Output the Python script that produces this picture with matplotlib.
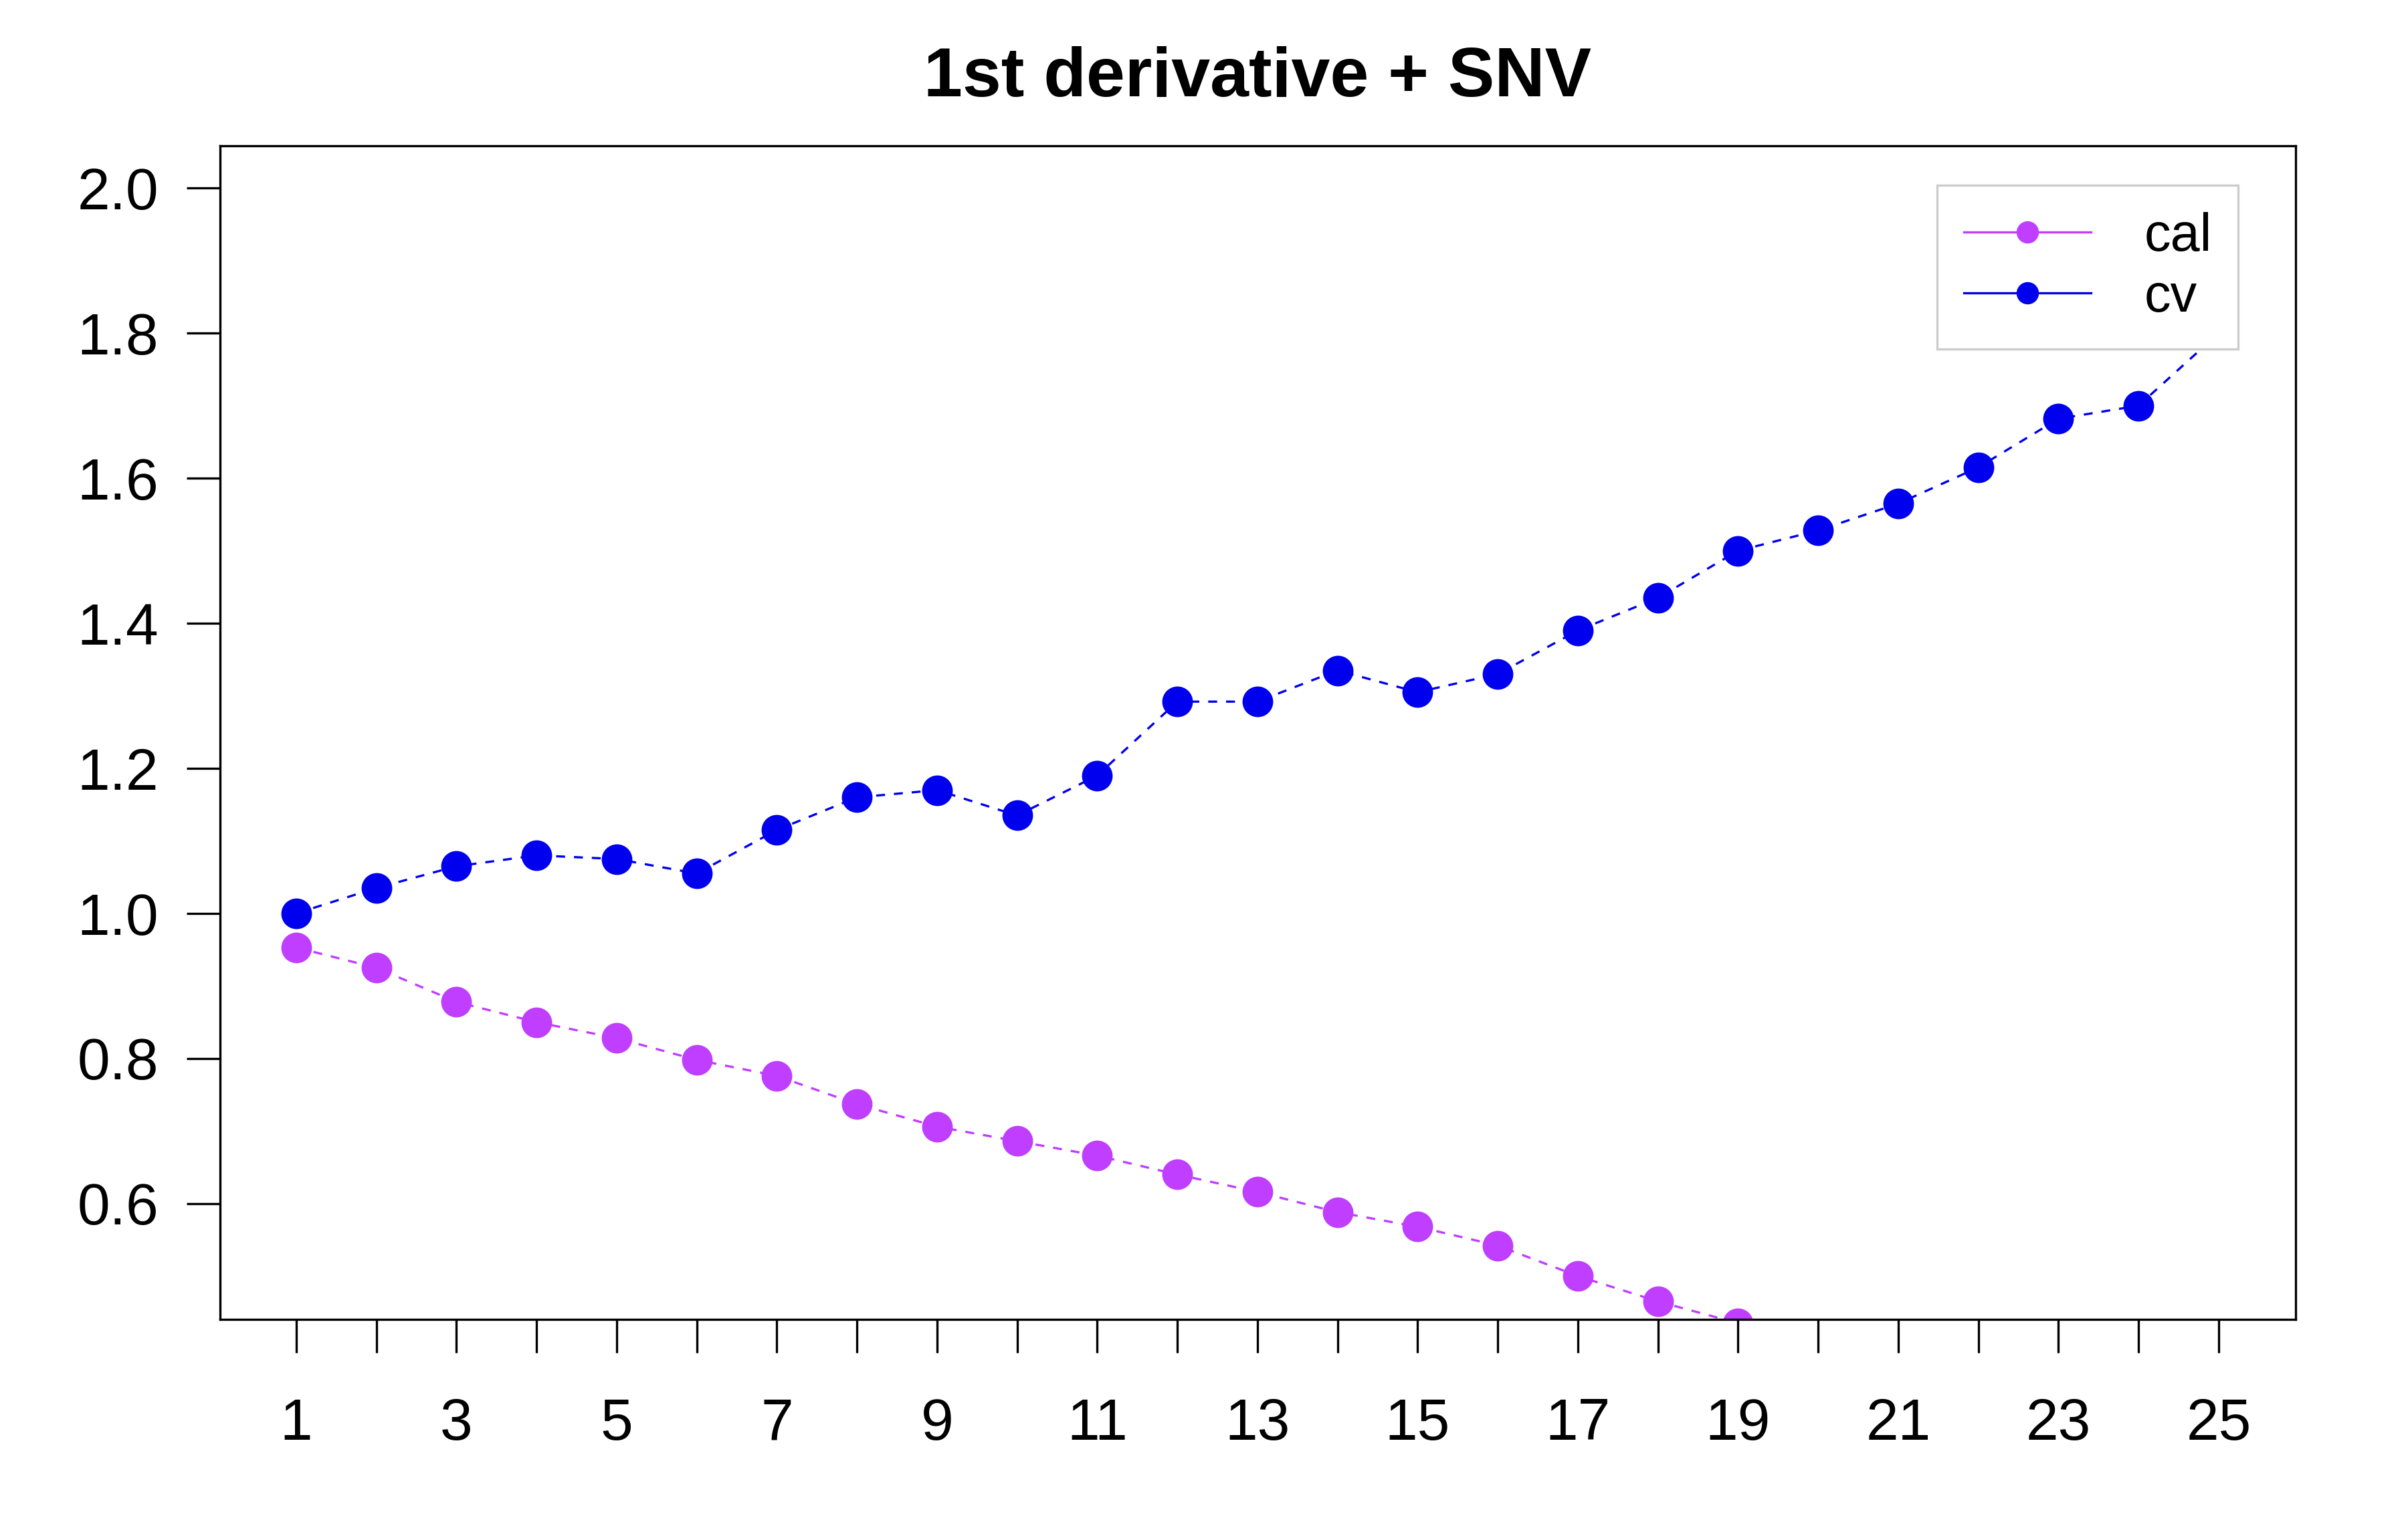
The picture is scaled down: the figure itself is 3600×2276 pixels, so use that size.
import numpy as np
import matplotlib.pyplot as plt
from matplotlib.lines import Line2D

plt.rcParams['font.family'] = ['Liberation Sans', 'DejaVu Sans']

ncomp = list(range(1, 26))
cal = [0.953, 0.925, 0.878, 0.850, 0.828, 0.798, 0.776, 0.737, 0.706, 0.686,
       0.666, 0.640, 0.616, 0.588, 0.568, 0.542, 0.500, 0.465, 0.435, 0.410,
       0.385, 0.360, 0.335, 0.310, 0.290]
cv = [1.000, 1.035, 1.065, 1.080, 1.075, 1.055, 1.115, 1.160, 1.170, 1.135,
      1.190, 1.292, 1.292, 1.335, 1.305, 1.330, 1.390, 1.435, 1.500, 1.528,
      1.565, 1.615, 1.682, 1.700, 1.800]
cal_col = '#BF3EFF'
cv_col = '#0000EE'

fig = plt.figure(figsize=(12, 7.587), dpi=300)
ax = fig.add_axes([0.0913, 0.133, 0.862, 0.771])
ax.plot(ncomp, cal, ls=(0, (4, 4)), lw=0.8, color=cal_col, marker='o', ms=10, mec=cal_col)
ax.plot(ncomp, cv, ls=(0, (4, 4)), lw=0.8, color=cv_col, marker='o', ms=10, mec=cv_col)
ax.set_xlim(0.047, 25.96)
ax.set_ylim(0.44, 2.058)
ax.set_xticks(ncomp)
ax.set_xticklabels([str(n) if n % 2 == 1 else '' for n in ncomp])
ax.set_yticks([0.6, 0.8, 1.0, 1.2, 1.4, 1.6, 1.8, 2.0])
ax.tick_params(labelsize=21, length=12, width=0.8, pad=10)
ax.tick_params(axis='x', pad=16)
for s in ax.spines.values():
    s.set_linewidth(0.8)
ax.set_title('1st derivative + SNV', fontsize=25, fontweight='bold', pad=18)

handles = [Line2D([], [], color=cal_col, lw=0.8, marker='o', ms=7),
           Line2D([], [], color=cv_col, lw=0.8, marker='o', ms=7)]
leg = ax.legend(handles, ['cal', 'cv'], loc='upper right', bbox_to_anchor=(0.98, 0.98),
                fontsize=19, fancybox=False, framealpha=1, handlelength=2.4,
                borderpad=0.5, labelspacing=0.2, handletextpad=1.0, borderaxespad=0.3)
leg.get_frame().set_edgecolor('#cccccc')
leg.get_frame().set_linewidth(0.8)

fig.savefig('out.png', dpi=300)
